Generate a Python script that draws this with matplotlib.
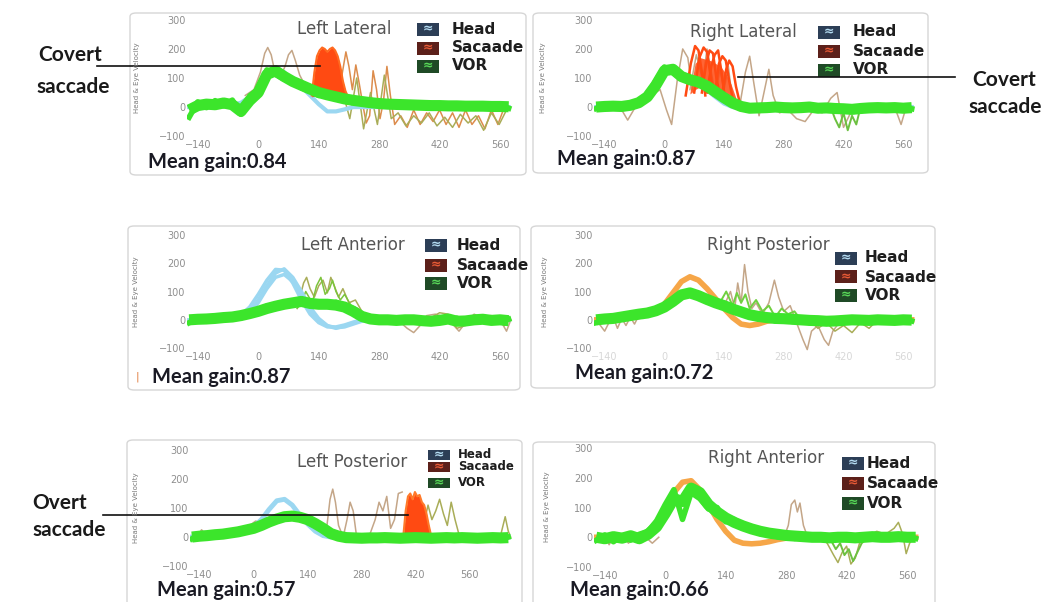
import matplotlib.pyplot as plt
from matplotlib.patches import FancyBboxPatch, Rectangle
from matplotlib.lines import Line2D

W, H = 1052, 602

# time base (ms) and axis ticks
T = [-160, -140, -120, -100, -80, -60, -40, -20,
     0, 20, 40, 60, 80, 100, 120, 140, 160, 180,
     200, 220, 240, 260, 280, 300, 320, 340, 360, 380,
     400, 420, 440, 460, 480, 500, 520, 540, 560, 580]
T_LONG = T + [600, 620, 640, 660]
X_TICKS = [-140, 0, 140, 280, 420, 560]
Y_TICKS = [-100, 0, 100, 200, 300]

TITLES = ["Left Lateral", "Right Lateral", "Left Anterior",
          "Right Posterior", "Left Posterior", "Right Anterior"]
GAINS = ["Mean gain:0.84", "Mean gain:0.87", "Mean gain:0.87",
         "Mean gain:0.72", "Mean gain:0.57", "Mean gain:0.66"]
LEGEND_LABELS = ["Head", "Sacaade", "VOR"]

# ---- Left Lateral
LL_head = [0, 0, 2, 3, 5, 8, 15, 35,
           55, 100, 130, 120, 95, 70, 40, 10, -15, -15,
           -8, 0, 0, 0, 0, 0, 0, 0, 0, 0,
           0, 0, 0, 0, 0, 0, 0, 0, 0, 0]
LL_vor = [-10, 5, 10, 8, 14, 8, -15, 22,
          50, 112, 125, 105, 88, 75, 62, 50, 42, 35,
          28, 23, 19, 15, 12, 10, 9, 8, 7, 6,
          5, 5, 4, 4, 3, 3, 3, 2, 2, 1]
LL_vor2 = [-35, 18, -2, 22, 4, 24, -25, 38,
           62, 128, 112, 96, 92, 66, 56, 40, 46, 28,
           32, 18, 24, 10, 17, 4, 14, 2, 12, 0,
           10, -2, 9, 0, 8, -3, 7, -1, 6, -4]
LL_thin = [
    ([-30, -10, 5, 15, 22, 30, 40, 55, 62], [40, 60, 120, 185, 205, 180, 110, 95, 120]),
    ([50, 62, 70, 78, 86, 96, 110], [100, 140, 180, 195, 160, 110, 70]),
    ([185, 195, 203, 210, 218, 226, 234, 242, 250, 258, 266, 274, 282, 290, 298, 306, 316,
      330, 345, 360, 375, 390, 405, 420, 435, 450, 465, 480, 495, 510, 525, 540, 555, 570],
     [40, 120, 190, 140, 60, 145, 80, 10, -55, -30, 125, 60, -40, 20, 140, 40, -60,
      -30, -70, -10, -60, -20, -50, -10, -60, -20, -70, -10, -60, -30, -75, -10, -60, 0]),
    ([196, 212, 228, 244, 260, 276, 292, 308, 324, 342, 360, 378, 396, 414, 432, 450,
      468, 486, 504, 522, 540, 558, 575],
     [50, -40, 100, -75, 50, -60, 110, -40, -20, -65, -30, -55, -20, -65, -35, -70,
      -25, -55, -30, -80, -20, -60, -10]),
]
LL_sac_t = [124, 130, 136, 142, 148, 154, 160, 166, 172, 178, 184, 190, 196, 202, 208]
LL_sac_hi = [40, 120, 175, 195, 205, 200, 190, 200, 205, 195, 175, 140, 90, 55, 35]
LL_sac_lo = [35, 38, 40, 42, 44, 44, 42, 40, 38, 36, 34, 32, 30, 28, 26]

# ---- Right Lateral
RL_head = [0, 0, 0, 2, 6, 14, 35, 75,
           115, 128, 115, 100, 82, 58, 34, 12, 0, -5,
           -5, -2, 0, 0, 0, 0, 0, 0, 0, 0,
           0, 0, 0, 0, 0, 0, 0, 0, 0, 0]
RL_vor = [0, 2, 3, 2, 6, 15, 35, 75,
          125, 130, 105, 94, 86, 72, 52, 32, 14, 2,
          -4, -3, -2, 0, -2, -3, -2, 0, -4, -3,
          -5, -6, -8, -5, -3, -2, -3, -2, -4, -2]
RL_vor2 = [-5, 8, -4, 8, 4, 22, 45, 90,
           138, 118, 100, 88, 80, 62, 44, 24, 8, -6,
           2, -9, 4, -7, 3, -9, 4, -6, 2, -10,
           -2, -14, -10, -14, 3, -8, 2, -8, 0, -6]
RL_thin = [
    ([-160, -120, -100, -86, -70, -50, -30, -10, 5, 17, 30, 43, 55, 65],
     [0, 0, -10, -45, -5, 15, 40, 60, -10, -60, 90, 200, 170, 60]),
    ([60, 75, 90, 100, 110, 120, 130, 140, 150, 160, 175, 190, 200, 210, 222, 235, 245,
      255, 270, 290, 310, 330, 350, 370, 390, 405, 420, 440, 460, 480, 500, 520, 540,
      555, 565, 580],
     [60, 180, 90, 200, 120, 40, 130, 60, 140, 20, -10, 120, 175, 80, -30, 60, 130,
      40, -20, -10, -40, -50, -10, -20, 30, 50, -70, -10, -5, 0, -5, -5, 0,
      -60, -10, 0]),
]
RL_dip = ([390, 400, 410, 420, 430, 440, 450, 460], [0, -40, -70, -20, -80, -30, -60, 0])
RL_sac = [
    ([50, 62, 72, 80, 88, 96], [40, 150, 210, 195, 120, 40]),
    ([70, 82, 92, 100, 108, 116], [50, 170, 205, 190, 110, 40]),
    ([88, 98, 106, 114, 122, 130], [50, 150, 195, 185, 100, 40]),
    ([100, 110, 118, 126, 134, 142], [50, 140, 180, 195, 120, 30]),
    ([118, 128, 136, 144, 152, 160], [40, 150, 175, 160, 90, 30]),
    ([135, 145, 152, 160, 168, 176], [40, 130, 160, 140, 70, 20]),
]
RL_sac_t = [60, 72, 84, 96, 108, 120, 132, 144, 156, 168]
RL_sac_hi = [50, 150, 170, 165, 160, 150, 140, 115, 80, 30]
RL_sac_lo = [45, 60, 70, 70, 60, 50, 40, 30, 20, 15]

# ---- Left Anterior
LA_heads = [
    [0, 0, 0, 0, 2, 5, 12, 30, 70, 120, 165, 180, 150, 100, 45, 5, -20, -28,
     -25, -15, -5, 0, 0, 0, 0, 0, 0, 0, 0, 0, 0, 0, 0, 0, 0, 0, 0, 0],
    [0, 0, 0, 0, 2, 4, 10, 25, 60, 110, 150, 160, 135, 85, 35, 0, -22, -30,
     -22, -10, -2, 0, 0, 0, 0, 0, 0, 0, 0, 0, 0, 0, 0, 0, 0, 0, 0, 0],
    [0, 0, 0, 0, 3, 8, 18, 45, 90, 140, 178, 175, 130, 70, 20, -10, -25, -25,
     -18, -8, 0, 0, 0, 0, 0, 0, 0, 0, 0, 0, 0, 0, 0, 0, 0, 0, 0, 0],
]
LA_vor = [0, 2, 3, 5, 8, 10, 15, 22,
          30, 40, 48, 55, 60, 65, 58, 55, 55, 52,
          45, 30, 12, 3, 0, 0, -2, 0, 0, -3,
          -5, -2, 3, -5, -4, 0, 2, -2, 0, -3]
LA_vor2 = [-10, 8, -4, 10, 2, 16, 8, 28,
           24, 48, 40, 62, 54, 72, 50, 64, 48, 62,
           38, 40, 4, 10, -6, 6, -8, 6, -6, 4,
           -12, 8, -2, 6, -10, 6, -4, 4, -8, 2]
LA_thin = [
    ([80, 95, 105, 112, 120, 130, 140, 150, 160, 168, 176, 186, 196, 210, 225, 240, 255],
     [50, 70, 130, 150, 110, 80, 120, 140, 95, 150, 120, 80, 110, 60, 70, 30, 5]),
    ([90, 100, 110, 125, 135, 145, 155, 165, 172, 180, 190, 200, 215, 230, 245, 260],
     [40, 60, 100, 60, 120, 150, 90, 110, 140, 100, 70, 90, 50, 40, 15, 0]),
    ([250, 280, 310, 330, 345, 360, 375, 390, 410, 430, 450, 465, 480, 500, 520, 540,
      560, 575, 585],
     [0, -5, 0, -10, -30, -45, -20, 15, 20, 10, -15, -40, -10, 20, 5, -10, 0, -40, 0]),
    ([300, 340, 380, 420, 440, 460, 480, 500, 540, 570],
     [0, 5, -10, 25, 20, -30, -20, 10, 15, -20]),
]

# ---- Right Posterior
RP_orange = [0, 0, 2, 4, 8, 12, 20, 30,
             55, 95, 135, 152, 140, 110, 75, 40, 8, -15,
             -20, -15, -5, 0, 0, 0, 0, 0, 0, 0,
             0, 0, 0, 0, 0, 0, 0, 0, 0, 0]
RP_vor = [0, 3, 5, 10, 15, 20, 24, 32,
          45, 65, 88, 95, 85, 72, 60, 50, 38, 28,
          18, 12, 8, 5, 4, 2, 0, -2, -3, -5,
          -4, -2, 0, -1, -2, 0, -1, -2, 0, -1]
RP_vor2 = [-10, -2, 14, 2, 22, 12, 32, 26,
           52, 60, 96, 88, 90, 64, 66, 44, 46, 20,
           26, 4, 14, -4, 10, -6, 6, -10, 4, -12,
           2, -10, 6, -8, 4, -6, 6, -8, 5, -4]
RP_thin = [
    ([-160, -150, -140, -130, -120, -110, -100, -90, -80, -70, -60, -50, -40],
     [0, -20, -40, -10, 10, -30, 5, -20, 10, -15, 15, 5, 20]),
    ([140, 155, 165, 172, 180, 188, 196, 205, 215, 230, 245, 258, 268, 280, 295, 310,
      325, 335, 345, 360, 375, 385, 395, 410, 425],
     [50, 100, 40, 130, 60, 195, 100, 40, 60, 20, 60, 140, 80, 30, 50, -10,
      -70, -105, -40, -20, -70, -90, -40, -10, 0]),
    ([340, 360, 380, 400, 420, 440, 460, 480, 500], [0, -30, -10, -40, -20, -45, -10, -30, 0]),
]
RP_green = ([130, 145, 160, 170, 180, 190, 200, 215, 230, 245, 260, 275, 290, 305, 320],
            [60, 100, 50, 95, 60, 90, 40, 70, 30, 50, 10, 40, 20, 30, 0])

# ---- Left Posterior
LP_head = [0, 0, 2, 4, 6, 10, 15, 22,
           35, 60, 95, 125, 130, 110, 75, 45, 20, 5,
           0, 0, 0, 0, 0, 0, 0, 0, 0, 0,
           0, 0, 0, 0, 0, 0, 0, 0, 0, 0, 0, 0, 0, 0]
LP_vor = [0, 3, 5, 8, 10, 14, 18, 24,
          30, 40, 52, 62, 70, 72, 68, 60, 46, 30,
          12, 3, -2, -3, -4, -3, -3, -2, -3, -4,
          -3, -2, -3, -4, -3, -2, -3, -2, -3, -4, -3, -2, -3, -2]
LP_vor2 = [-6, 10, 0, 14, 4, 20, 10, 30,
           24, 48, 44, 70, 62, 80, 60, 66, 40, 34,
           6, 8, -8, 4, -10, 2, -8, 4, -9, 2,
           -8, 3, -10, 2, -8, 4, -9, 2, -8, 3, -10, 4, -8, 0]
LP_thin = [
    ([-160, -145, -135, -125, -110, -90, -70, -50, -30, -10, 5, 20],
     [0, 5, 25, 10, 15, 20, 25, 30, 35, 40, 55, 50]),
    ([180, 190, 198, 205, 212, 220, 232, 242, 250, 258, 266, 280, 300, 315, 325, 335,
      345, 355, 365, 375, 385],
     [0, 40, 130, 165, 120, 40, 0, 60, 120, 90, 10, 0, 5, 60, 120, 90, 140, 30, 60, 150, 155]),
    ([440, 452, 462, 472, 482, 492, 502, 512, 522, 532, 545, 560, 580, 600, 620, 640,
      652, 660, 666],
     [40, 110, 60, 90, 130, 80, 40, 120, 60, 10, 0, -5, 0, -5, 0, 5, 70, 20, 0]),
]
LP_sac_t = [388, 394, 400, 406, 412, 418, 424, 430, 436, 442, 448, 454, 460]
LP_sac_hi = [5, 90, 140, 150, 130, 155, 140, 145, 120, 110, 80, 40, 5]
LP_sac_lo = [0, 0, 0, -2, -2, 0, 0, -2, 0, 0, 0, 0, 0]

# ---- Right Anterior
RA_orange = [0, 0, 0, 2, 4, 8, 15, 40,
             90, 150, 185, 190, 160, 110, 60, 20, -10, -20,
             -22, -20, -15, -8, -3, 0, 0, 0, 0, 0,
             0, 0, 0, 0, 0, 0, 0, 0, 0, 0]
RA_vor = [0, -5, 2, -3, 5, -5, 10, 35,
          80, 130, 120, 165, 150, 110, 85, 65, 50, 38,
          28, 20, 14, 10, 6, 4, 2, 0, 0, -2,
          0, 0, -2, 0, 2, 0, 0, 2, 0, 0]
RA_vor2 = [-10, 8, -15, 6, -10, 10, 20, 55,
           110, 160, 60, 150, 130, 95, 100, 52, 60, 30,
           34, 12, 20, 2, 12, -4, 8, -6, 6, -6,
           4, -8, 2, -6, 8, -4, 6, -2, 4, -4]
RA_thin = [
    ([-160, -140, -130, -120, -100, -85, -75, -60, -45, -30, -15],
     [0, 5, -25, 0, 5, -20, 0, -15, 0, -20, 0]),
    ([240, 260, 275, 285, 292, 300, 306, 312, 320, 330, 345, 360],
     [0, -5, 0, 40, 110, 125, 85, 115, 40, 0, -10, 0]),
    ([360, 375, 390, 400, 410, 420, 430, 440, 450, 460, 475, 490, 510, 530, 540, 550,
      558, 566, 575],
     [0, -20, -60, -85, -50, -30, -90, -70, -20, -10, 10, 20, 10, 30, 50, 10, -55, -20, 0]),
]
RA_dip = ([380, 395, 405, 415, 425, 435, 445, 455, 470], [0, -40, -20, -60, -40, -80, -50, -20, 0])

GREEN = '#3ce52b'
BLUE = '#9bd7f1'
RED = '#ff4a12'
ORANGE_L = '#f6a648'
TAN = '#c4a688'
OLIVE = '#a9ad58'
BROWN_OR = '#dc8c4c'

fig = plt.figure(figsize=(W / 100, H / 100), dpi=100)


def fx(x):
    return x / W


def fy(y):
    return 1 - y / H


def ftext(x, y, s, **kw):
    fig.text(fx(x), fy(y), s, **kw)


def frame(l, t, r, b):
    fig.add_artist(FancyBboxPatch((fx(l), fy(b)), (r - l) / W, (b - t) / H,
                                  boxstyle='round,pad=0,rounding_size=0.006',
                                  transform=fig.transFigure, facecolor='none',
                                  edgecolor='#d6d6d6', lw=1.0))


def make_axes(l, t, r, b, xlim, xlab_alpha=1.0):
    ax = fig.add_axes([fx(l), fy(b), (r - l) / W, (b - t) / H])
    ax.set_xlim(*xlim)
    ax.set_ylim(-110, 310)
    ax.set_xticks(X_TICKS)
    ax.set_yticks(Y_TICKS)
    ax.tick_params(length=0, labelsize=7, labelcolor='#8e8e8e', pad=1)
    for lab in ax.get_xticklabels():
        lab.set_alpha(xlab_alpha)
    for s in ax.spines.values():
        s.set_visible(False)
    ax.patch.set_alpha(0)
    return ax


def legend(x_sw, rows, x_txt, fs=11, sw_h=13):
    fcs = ['#2c3e56', '#5c201a', '#1f4a26']
    wcs = ['#b4dcf2', '#e85a36', '#58d858']
    for lab, fc, wc, y in zip(LEGEND_LABELS, fcs, wcs, rows):
        fig.add_artist(Rectangle((fx(x_sw), fy(y + sw_h / 2)), 22 / W, sw_h / H,
                                 transform=fig.transFigure, facecolor=fc, edgecolor='none'))
        ftext(x_sw + 11, y, '≈', color=wc, fontsize=9, ha='center', va='center',
              fontweight='bold')
        ftext(x_txt, y, lab, fontsize=fs, fontweight='bold', color='#1e1e1e',
              va='center', ha='left')


def draw_band(ax, t, vor, vor2):
    ax.plot(t, vor, color=GREEN, lw=8, zorder=5, solid_capstyle='butt')
    ax.plot(t, vor2, color=GREEN, lw=4, zorder=5)


def thin(ax, traces, colors, lw=1.1):
    for (t, v), c in zip(traces, colors):
        ax.plot(t, v, color=c, lw=lw, zorder=2)


# panel frames
frame(130, 13, 526, 175)
frame(533, 13, 928, 173)
frame(128, 226, 520, 390)
frame(531, 226, 935, 388)
frame(127, 440, 522, 612)
frame(533, 442, 935, 612)

XL = (-165, 590)

# Left Lateral
ax = make_axes(187, 17, 513, 139, XL)
thin(ax, LL_thin, [TAN, TAN, BROWN_OR, OLIVE])
ax.plot(T, LL_head, color=BLUE, lw=3, zorder=3)
ax.fill_between(LL_sac_t, LL_sac_lo, LL_sac_hi, color=RED, lw=0, zorder=4)
ax.plot(LL_sac_t, LL_sac_hi, color='#ff6a20', lw=1.5, zorder=4)
draw_band(ax, T, LL_vor, LL_vor2)

# Right Lateral
ax = make_axes(594, 17, 916, 139, XL)
thin(ax, RL_thin, [TAN, TAN])
ax.plot(*RL_dip, color='#6cc040', lw=1.4, zorder=2)
ax.plot(T, RL_head, color=BLUE, lw=3, zorder=3)
ax.fill_between(RL_sac_t, RL_sac_lo, RL_sac_hi, color=RED, alpha=0.85, lw=0, zorder=4)
for t, v in RL_sac:
    ax.plot(t, v, color=RED, lw=1.8, zorder=4)
draw_band(ax, T, RL_vor, RL_vor2)

# Left Anterior
ax = make_axes(187, 232, 513, 351, XL)
thin(ax, LA_thin, [OLIVE, '#7cc43c', TAN, OLIVE])
for h in LA_heads:
    ax.plot(T, h, color=BLUE, lw=2.5, zorder=3)
draw_band(ax, T, LA_vor, LA_vor2)

# Right Posterior
ax = make_axes(594, 232, 916, 351, XL, xlab_alpha=0.35)
thin(ax, RP_thin, [TAN, TAN, OLIVE])
ax.plot(T, RP_orange, color=ORANGE_L, lw=4, zorder=3)
ax.plot(*RP_green, color='#70d040', lw=1.4, zorder=4)
draw_band(ax, T, RP_vor, RP_vor2)

# Left Posterior
ax = make_axes(190, 447, 516, 569, (-165, 680))
thin(ax, LP_thin, [TAN, TAN, OLIVE])
ax.plot(T_LONG, LP_head, color=BLUE, lw=3.5, zorder=3)
ax.fill_between(LP_sac_t, LP_sac_lo, LP_sac_hi, color=RED, lw=0, zorder=4)
ax.plot(LP_sac_t, LP_sac_hi, color='#ff7a2a', lw=1.5, zorder=4)
draw_band(ax, T_LONG, LP_vor, LP_vor2)

# Right Anterior
ax = make_axes(594, 445, 920, 570, XL)
thin(ax, RA_thin, [TAN, TAN, OLIVE])
ax.plot(*RA_dip, color='#6cc040', lw=1.4, zorder=2)
ax.plot(T, RA_orange, color=ORANGE_L, lw=4, zorder=3)
draw_band(ax, T, RA_vor, RA_vor2)

# titles
tkw = dict(fontsize=12, color='#555555', ha='center', va='center')
ftext(344, 29, TITLES[0], **tkw)
ftext(743, 32, TITLES[1], **tkw)
ftext(353, 245, TITLES[2], **tkw)
ftext(768, 245, TITLES[3], **tkw)
ftext(352, 462, TITLES[4], **tkw)
ftext(766, 458, TITLES[5], **tkw)

# legends
legend(417, [29, 48, 66], 452)
legend(818, [32, 51, 70], 853)
legend(425, [245, 265, 283], 457)
legend(835, [258, 277, 295], 865)
legend(428, [455, 467, 483], 458, fs=8.5, sw_h=10)
legend(842, [463, 483, 503], 867)

# y-axis captions
ykw = dict(rotation=90, fontsize=5, color='#7a7a7a', ha='center', va='center')
for x, y in [(137, 78), (543, 78), (136, 292), (545, 292), (136, 508), (547, 507)]:
    ftext(x, y, 'Head & Eye Velocity', **ykw)

# mean gain
gkw = dict(fontsize=14.5, fontweight='bold', color='#1a1a24', family='Lato',
           ha='left', va='center')
ftext(148, 162, GAINS[0], **gkw)
ftext(557, 159, GAINS[1], **gkw)
ftext(152, 377, GAINS[2], **gkw)
ftext(575, 373, GAINS[3], **gkw)
ftext(157, 590, GAINS[4], **gkw)
ftext(570, 590, GAINS[5], **gkw)
ftext(137, 377, '|', fontsize=8, color='#e07a3a', ha='center', va='center')

# annotations
akw = dict(fontsize=15, fontweight='bold', color='#1a1a1a', family='Lato',
           ha='left', va='center')
ftext(38, 55, 'Covert', **akw)
ftext(36, 87, 'saccade', **akw)
fig.add_artist(Line2D([fx(97), fx(320)], [fy(66), fy(66)], transform=fig.transFigure,
                      color='#111111', lw=1.2))
ftext(972, 80, 'Covert', **akw)
ftext(968, 107, 'saccade', **akw)
fig.add_artist(Line2D([fx(738), fx(955)], [fy(77), fy(77)], transform=fig.transFigure,
                      color='#111111', lw=1.2))
ftext(32, 503, 'Overt', **akw)
ftext(32, 530, 'saccade', **akw)
fig.add_artist(Line2D([fx(103), fx(408)], [fy(515), fy(515)], transform=fig.transFigure,
                      color='#111111', lw=1.2))

fig.savefig('out.png', dpi=100)
